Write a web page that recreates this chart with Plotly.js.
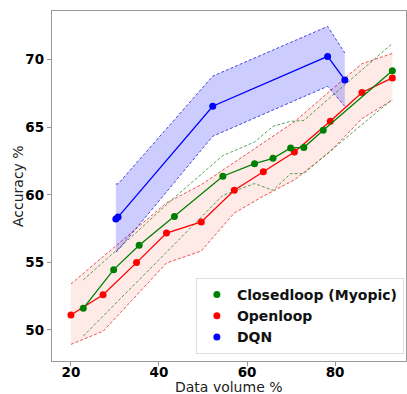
<!DOCTYPE html>
<html><head><meta charset="utf-8">
<script src="https://cdn.plot.ly/plotly-3.0.1.min.js"></script>
<style>html,body{margin:0;padding:0;background:#fff}#chart{width:407px;height:394px}</style>
</head><body><div id="chart"></div>
<script>
// Closedloop (Myopic)
const closedX = [22.8, 29.7, 35.5, 43.5, 54.5, 61.7, 65.9, 69.9, 72.9, 77.3, 93.0];
const closedY = [51.6, 54.46, 56.26, 58.4, 61.37, 62.3, 62.7, 63.47, 63.5, 64.78, 69.17];
const closedUpper = [53.7, 55.7, 57.4, 59.8, 62.9, 63.9, 65.07, 65.44, 65.5, 66.75, 71.2];
const closedLower = [49.54, 51.8, 53.7, 56.3, 59.96, 60.83, 60.33, 61.57, 61.57, 62.8, 67.07];
// Openloop
const openX = [20.0, 27.3, 34.9, 41.7, 49.6, 57.1, 63.7, 70.75, 78.9, 86.1, 93.0];
const openY = [51.1, 52.6, 54.98, 57.17, 57.99, 60.33, 61.7, 63.17, 65.44, 67.57, 68.65];
const openUpper = [53.4, 55.4, 57.5, 59.4, 60.75, 62.4, 63.8, 65.4, 67.7, 69.7, 70.46];
const openLower = [48.93, 49.9, 52.56, 54.95, 55.84, 58.65, 59.9, 61.1, 63.2, 65.64, 67.0];
// DQN
const dqnX = [30.2, 30.7, 52.2, 78.3, 82.2];
const dqnY = [58.2, 58.35, 66.55, 70.24, 68.5];
const dqnUpper = [60.8, 60.8, 68.78, 72.46, 70.5];
const dqnLower = [55.76, 55.9, 64.33, 68.03, 66.55];

const names = ['Closedloop (Myopic)', 'Openloop', 'DQN'];
const xTicks = [20, 40, 60, 80];
const yTicks = [50, 55, 60, 65, 70];
const xTitle = 'Data volume %';
const yTitle = 'Accuracy %';

const DASH = '3px,2px';
function band(x, lo, hi, lineColor, fillColor) {
  return [
    {x: x, y: lo, mode: 'lines', line: {color: lineColor, width: 1, dash: DASH}, showlegend: false, hoverinfo: 'skip'},
    {x: x, y: hi, mode: 'lines', line: {color: lineColor, width: 1, dash: DASH}, showlegend: false, hoverinfo: 'skip',
     fill: fillColor ? 'tonexty' : 'none', fillcolor: fillColor || 'rgba(0,0,0,0)'}
  ];
}
function main(x, y, color) {
  return {x: x, y: y, mode: 'lines+markers', line: {color: color, width: 1.3},
          marker: {color: color, size: 7}, showlegend: false};
}
function leg(name, color) {
  return {x: [null], y: [null], mode: 'markers', name: name, marker: {color: color, size: 7}, showlegend: true};
}

const data = [
  ...band(openX, openLower, openUpper, 'rgba(230,40,40,0.8)', 'rgba(250,128,114,0.16)'),
  ...band(dqnX, dqnLower, dqnUpper, 'rgba(40,40,220,0.85)', 'rgba(0,0,255,0.2)'),
  ...band(closedX, closedLower, closedUpper, 'rgba(30,130,30,0.75)', null),
  main(openX, openY, 'red'),
  main(closedX, closedY, 'green'),
  main(dqnX, dqnY, 'blue'),
  leg(names[0], 'green'), leg(names[1], 'red'), leg(names[2], 'blue')
];

const tickFont = {family: 'DejaVu Sans', size: 13.5, color: '#000', weight: 'bold'};
const titleFont = {family: 'DejaVu Sans', size: 14, color: '#222'};
const layout = {
  width: 407, height: 394,
  margin: {l: 52, r: 1, t: 11, b: 33},
  paper_bgcolor: '#fff', plot_bgcolor: '#fff',
  showlegend: true,
  xaxis: {range: [15.7, 96.1], tickvals: xTicks, ticktext: xTicks.map(String), showgrid: false, zeroline: false,
          showline: true, mirror: true, linecolor: '#999', linewidth: 1.2, ticks: 'outside', ticklen: 4, tickcolor: '#999',
          tickfont: tickFont, automargin: false, ticklabelstandoff: -5},
  yaxis: {range: [47.7, 73.6], tickvals: yTicks, ticktext: yTicks.map(String), showgrid: false, zeroline: false,
          showline: true, mirror: true, linecolor: '#999', linewidth: 1.2, ticks: 'outside', ticklen: 4, tickcolor: '#999',
          tickfont: tickFont, automargin: false},
  annotations: [
    {text: xTitle, xref: 'paper', yref: 'paper', x: 0.5, y: -0.074, xanchor: 'center', yanchor: 'middle',
     showarrow: false, font: titleFont},
    {text: yTitle, xref: 'paper', yref: 'paper', x: -0.096, y: 0.5, xanchor: 'center', yanchor: 'middle',
     textangle: -90, showarrow: false, font: titleFont}
  ],
  legend: {x: 0.994, y: 0.02, xanchor: 'right', yanchor: 'bottom', bgcolor: 'rgba(255,255,255,0.9)',
           bordercolor: '#ddd', borderwidth: 1, traceorder: 'normal',
           font: {family: 'DejaVu Sans', size: 14, color: '#111', weight: 'bold'}}
};
Plotly.newPlot('chart', data, layout, {staticPlot: true, displayModeBar: false});
</script></body></html>
